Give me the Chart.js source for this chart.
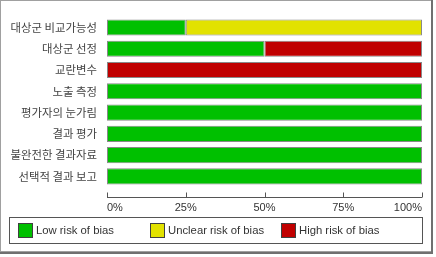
<!DOCTYPE html>
<html>
<head>
<meta charset="utf-8">
<script src="https://cdn.jsdelivr.net/npm/chart.js@4.4.1/dist/chart.umd.min.js"></script>
<style>
  html, body { margin: 0; padding: 0; background: #fff; }
  canvas { display: block; }
</style>
</head>
<body>
<canvas id="chart" width="436" height="257"></canvas>
<script>
// risk of bias summary (percent of studies)
const domains = [
  '대상군 비교가능성',
  '대상군 선정',
  '교란변수',
  '노출 측정',
  '평가자의 눈가림',
  '결과 평가',
  '불완전한 결과자료',
  '선택적 결과 보고'
];
const lowRisk     = [25, 50, 0, 100, 100, 100, 100, 100];
const unclearRisk = [75, 0, 0, 0, 0, 0, 0, 0];
const highRisk    = [0, 50, 100, 0, 0, 0, 0, 0];
const seriesNames = ['Low risk of bias', 'Unclear risk of bias', 'High risk of bias'];
const seriesColors = ['#00c000', '#e2e200', '#c00000'];
const xTicks = [0, 25, 50, 75, 100];

const tickFont = { family: 'Liberation Sans', size: 11 };

// frame, axis line and legend box are drawn by hand
const framePlugin = {
  id: 'frame',
  beforeDraw(chart) {
    const ctx = chart.ctx;
    ctx.save();
    ctx.fillStyle = '#fff';
    ctx.fillRect(0, 0, chart.width, chart.height);
    ctx.restore();
  },
  afterDraw(chart) {
    const ctx = chart.ctx;
    const x = chart.scales.x;
    const area = chart.chartArea;
    ctx.save();

    // outer frame
    ctx.strokeStyle = '#a0a0a0';
    ctx.lineWidth = 1;
    ctx.strokeRect(0.5, 0.5, 431, 251);
    ctx.strokeStyle = '#707070';
    ctx.lineWidth = 2;
    ctx.beginPath();
    ctx.moveTo(432, 0);
    ctx.lineTo(432, 253);
    ctx.lineTo(0, 253);
    ctx.stroke();

    // x axis line with ticks
    const axisY = area.bottom + 10.5;
    ctx.strokeStyle = '#555';
    ctx.lineWidth = 1;
    ctx.beginPath();
    ctx.moveTo(x.left, axisY);
    ctx.lineTo(x.right, axisY);
    x.ticks.forEach(t => {
      const px = Math.round(x.getPixelForValue(t.value)) + 0.5;
      ctx.moveTo(px, axisY - 5);
      ctx.lineTo(px, axisY);
    });
    ctx.stroke();

    // legend
    const boxL = 9.5, boxT = 217.5, boxW = 413, boxH = 26;
    ctx.strokeStyle = '#555';
    ctx.strokeRect(boxL, boxT, boxW, boxH);
    ctx.font = '11.3px "Liberation Sans"';
    ctx.textBaseline = 'middle';
    chart.data.datasets.forEach((ds, i) => {
      const sx = Math.round(18 + i * 131.5);
      const sy = 223;
      ctx.fillStyle = ds.backgroundColor;
      ctx.fillRect(sx, sy, 15, 15);
      ctx.strokeStyle = '#404040';
      ctx.strokeRect(sx + 0.5, sy + 0.5, 14, 14);
      ctx.fillStyle = '#333';
      ctx.fillText(ds.label, sx + 18, sy + 8);
    });
    ctx.restore();
  }
};

const ctx = document.getElementById('chart').getContext('2d');
new Chart(ctx, {
  type: 'bar',
  data: {
    labels: domains,
    datasets: [lowRisk, unclearRisk, highRisk].map((d, i) => ({
      label: seriesNames[i],
      data: d,
      backgroundColor: seriesColors[i],
      borderColor: 'rgba(40,40,40,0.55)',
      borderWidth: 1,
      borderSkipped: false,
      barPercentage: 0.76,
      categoryPercentage: 1
    }))
  },
  options: {
    indexAxis: 'y',
    responsive: false,
    animation: false,
    events: [],
    layout: { padding: { left: 7, right: 13, top: 7, bottom: 40 } },
    scales: {
      x: {
        stacked: true,
        min: 0,
        max: 100,
        afterBuildTicks: s => { s.ticks = xTicks.map(v => ({ value: v })); },
        afterFit: s => { s.height = 30; },
        grid: { display: false, drawTicks: false },
        border: { display: false },
        ticks: {
          align: 'inner',
          padding: 14,
          color: '#333',
          font: tickFont,
          maxRotation: 0,
          callback: v => v + '%'
        }
      },
      y: {
        stacked: true,
        afterFit: s => { s.width = 100; },
        grid: { display: false, drawTicks: false },
        border: { display: false },
        ticks: {
          padding: 10,
          color: '#444',
          font: { family: 'Noto Sans CJK KR', size: 11.4 }
        }
      }
    },
    plugins: {
      legend: { display: false },
      tooltip: { enabled: false }
    }
  },
  plugins: [framePlugin]
});
</script>
</body>
</html>
